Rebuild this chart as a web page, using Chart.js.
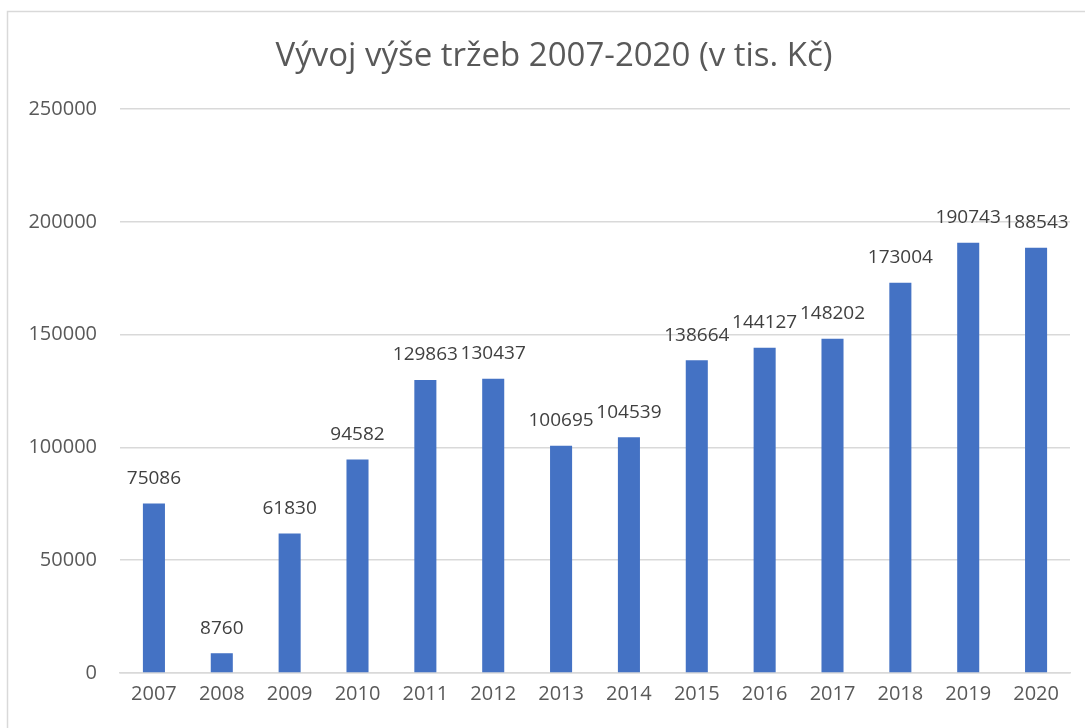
<!DOCTYPE html>
<html>
<head>
<meta charset="utf-8">
<script src="https://cdn.jsdelivr.net/npm/chart.js@4"></script>
<style>
  html, body { margin: 0; padding: 0; background: #fff; }
  #wrap { width: 1085px; height: 728px; position: relative; }
</style>
</head>
<body>
<div id="wrap"><canvas id="trzbyChart"></canvas></div>
<script>
// data
const roky = ['2007', '2008', '2009', '2010', '2011', '2012', '2013', '2014', '2015', '2016', '2017', '2018', '2019', '2020'];
const trzby = [75086, 8760, 61830, 94582, 129863, 130437, 100695, 104539, 138664, 144127, 148202, 173004, 190743, 188543];
const nadpis = 'Vývoj výše tržeb 2007-2020 (v tis. Kč)';

const FONT = '"Open Sans", "Liberation Sans", sans-serif';

// ramecek + nadpis
const ramecekPlugin = {
    id: 'ramecek',
    beforeDraw(chart) {
        const ctx = chart.ctx;
        ctx.save();
        ctx.strokeStyle = '#d9d9d9';
        ctx.lineWidth = 1.5;
        ctx.beginPath();
        ctx.moveTo(7.5, 728);
        ctx.lineTo(7.5, 11.5);
        ctx.lineTo(1085, 11.5);
        ctx.stroke();
        ctx.fillStyle = '#595959';
        ctx.font = '33px ' + FONT;
        ctx.textAlign = 'center';
        ctx.textBaseline = 'middle';
        ctx.fillText(nadpis, 554, 57);
        ctx.restore();
    }
};

// popisky hodnot nad sloupci
const popiskyPlugin = {
    id: 'popisky',
    afterDatasetsDraw(chart) {
        const ctx = chart.ctx;
        const meta = chart.getDatasetMeta(0);
        ctx.save();
        ctx.fillStyle = '#404040';
        ctx.font = '19px ' + FONT;
        ctx.textAlign = 'center';
        ctx.textBaseline = 'middle';
        meta.data.forEach((bar, i) => {
            ctx.fillText(String(trzby[i]), bar.x, bar.y - 25);
        });
        ctx.restore();
    }
};

const ctx = document.getElementById('trzbyChart').getContext('2d');
new Chart(ctx, {
    type: 'bar',
    data: {
        labels: roky,
        datasets: [{
            label: 'Tržby',
            data: trzby,
            backgroundColor: '#4472c4',
            barPercentage: 0.325,
            categoryPercentage: 1
        }]
    },
    options: {
        responsive: true,
        maintainAspectRatio: false,
        animation: false,
        layout: { padding: { left: 0, right: 15, top: 109, bottom: 0 } },
        plugins: {
            legend: { display: false },
            title: { display: false },
            tooltip: { enabled: false }
        },
        scales: {
            y: {
                min: 0,
                max: 250000,
                ticks: {
                    stepSize: 50000,
                    padding: 23,
                    color: '#595959',
                    font: { family: FONT, size: 20 },
                    callback: (value) => String(value)
                },
                grid: { color: '#d9d9d9', lineWidth: 1.5, drawTicks: false },
                border: { display: false },
                afterFit(scale) { scale.width = 120; }
            },
            x: {
                ticks: {
                    padding: 9,
                    color: '#595959',
                    font: { family: FONT, size: 20 }
                },
                grid: { display: false, drawTicks: false },
                border: { display: true, color: '#d9d9d9', width: 1.5 },
                afterFit(scale) { scale.height = 55; }
            }
        }
    },
    plugins: [ramecekPlugin, popiskyPlugin]
});
</script>
</body>
</html>
